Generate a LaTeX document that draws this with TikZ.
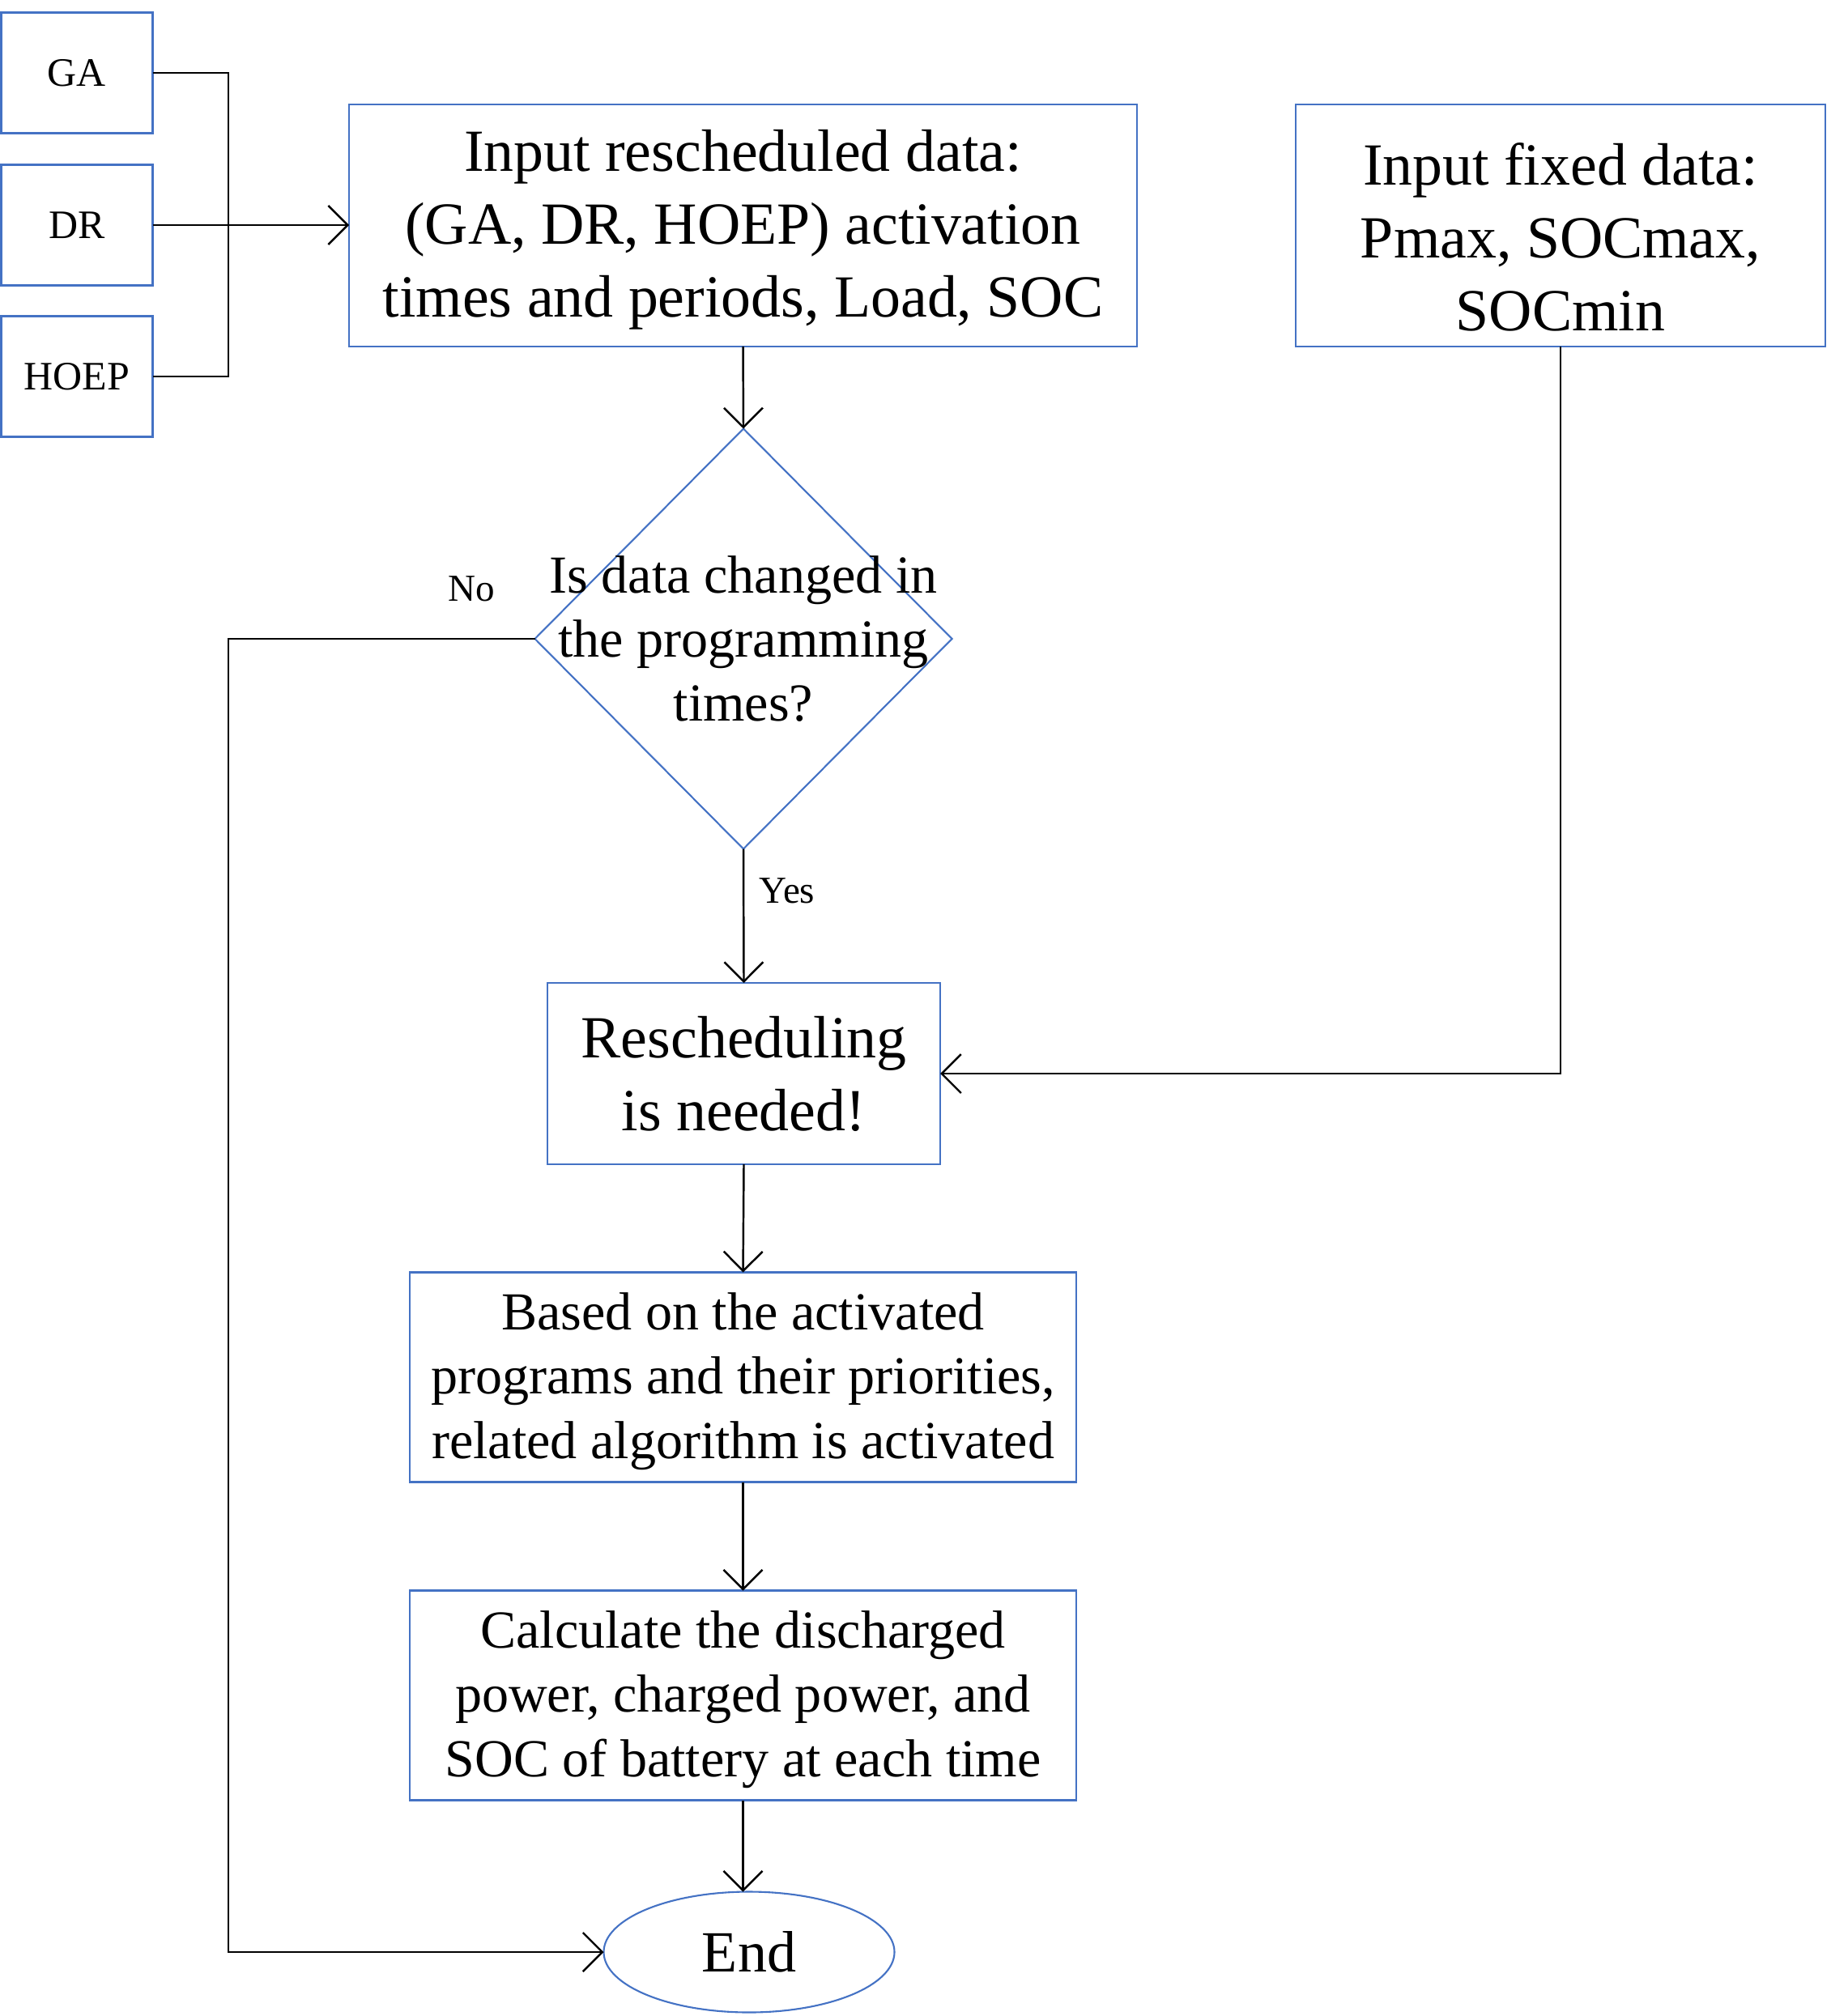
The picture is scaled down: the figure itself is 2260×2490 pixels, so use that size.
\documentclass[tikz,border=0pt]{standalone}
\usepackage{fontspec}
\setmainfont{Liberation Serif}
\usetikzlibrary{arrows.meta,shapes.geometric,calc}
\definecolor{boxblue}{HTML}{4472C4}
\begin{document}
\begin{tikzpicture}[x=0.1mm,y=-0.1mm,
  box/.style={draw=boxblue,line width=0.6pt,rectangle,inner sep=0pt,outer sep=0pt,align=center},
  big/.style={font=\fontsize{21}{25.6}\selectfont},
  mid/.style={font=\fontsize{18.8}{22.6}\selectfont},
  small/.style={font=\fontsize{14.2}{17}\selectfont},
  lbl/.style={font=\fontsize{13.4}{16}\selectfont,inner sep=0pt},
  txt/.style={inner sep=0pt,align=center},
  conn/.style={draw=black,line width=0.7pt},
  arr/.style={conn,-{Straight Barb[length=2.4mm,width=4.8mm]}}]
\useasboundingbox (0,0) rectangle (2260,2490);
% small input boxes
\node[box,small,minimum width=18.7mm,minimum height=14.9mm] (GA) at (95,90) {GA};
\node[box,small,minimum width=18.7mm,minimum height=14.9mm] (DR) at (95,278) {DR};
\node[box,small,minimum width=18.7mm,minimum height=14.9mm] (HOEP) at (95,465) {HOEP};
% main boxes
\node[box,minimum width=97.3mm,minimum height=29.9mm] (inp) at (917.5,278.5) {};
\node[txt,big] (inptxt) at ($(inp.center)+(0,5)$)
  {Input rescheduled data:\\(GA, DR, HOEP) activation\\times and periods, Load, SOC};
\node[box,minimum width=65.4mm,minimum height=29.9mm] (fixed) at (1927,278.5) {};
\node[txt,big] (fixedtxt) at ($(fixed.center)+(0,14)$) {Input fixed data:\\Pmax, SOCmax,\\SOCmin};
\node[draw=boxblue,line width=0.6pt,diamond,inner sep=0pt,outer sep=0pt,
  minimum width=51.5mm,minimum height=51.9mm] (q) at (918,789) {};
\node[txt,mid] (qtxt) at (q.center) {Is data changed in\\the programming\\times?};
\node[box,big,minimum width=48.5mm,minimum height=22.4mm] (res) at (918.5,1326)
  {Rescheduling\\is needed!};
\node[box,minimum width=82.3mm,minimum height=25.9mm] (based) at (917.5,1701) {};
\node[txt,mid] (basedtxt) at ($(based.center)+(0,5)$)
  {Based on the activated\\programs and their priorities,\\related algorithm is activated};
\node[box,minimum width=82.3mm,minimum height=25.9mm] (calc) at (917.5,2094) {};
\node[txt,mid] (calctxt) at ($(calc.center)+(0,5)$)
  {Calculate the discharged\\power, charged power, and\\SOC of battery at each time};
\node[draw=boxblue,line width=0.6pt,ellipse,inner sep=0pt,outer sep=0pt,
  minimum width=35.9mm,minimum height=14.9mm,font=\fontsize{20.5}{24}\selectfont] (End) at (925,2411) {End};
% labels
\node[lbl] (nolbl) at (582,727) {No};
\node[lbl,anchor=west] (yeslbl) at (937,1100) {Yes};
% connectors
\coordinate (bus) at (282,90);
\draw[conn] (GA.east) -- (bus) |- (HOEP.east);
\draw[arr] (DR.east) -- (inp.west |- DR.east);
\draw[arr] (inp.south) -- (q.north);
\draw[arr] (q.south) -- (res.north);
\draw[arr] (res.south) -- (based.north);
\draw[arr] (based.south) -- (calc.north);
\draw[arr] (calc.south) -- (calc.south |- End.north);
\draw[arr] (fixed.south) |- (res.east);
\coordinate (nocorner) at (282,789);
\draw[arr] (q.west) -- (nocorner) |- (End.west);
\end{tikzpicture}
\end{document}
